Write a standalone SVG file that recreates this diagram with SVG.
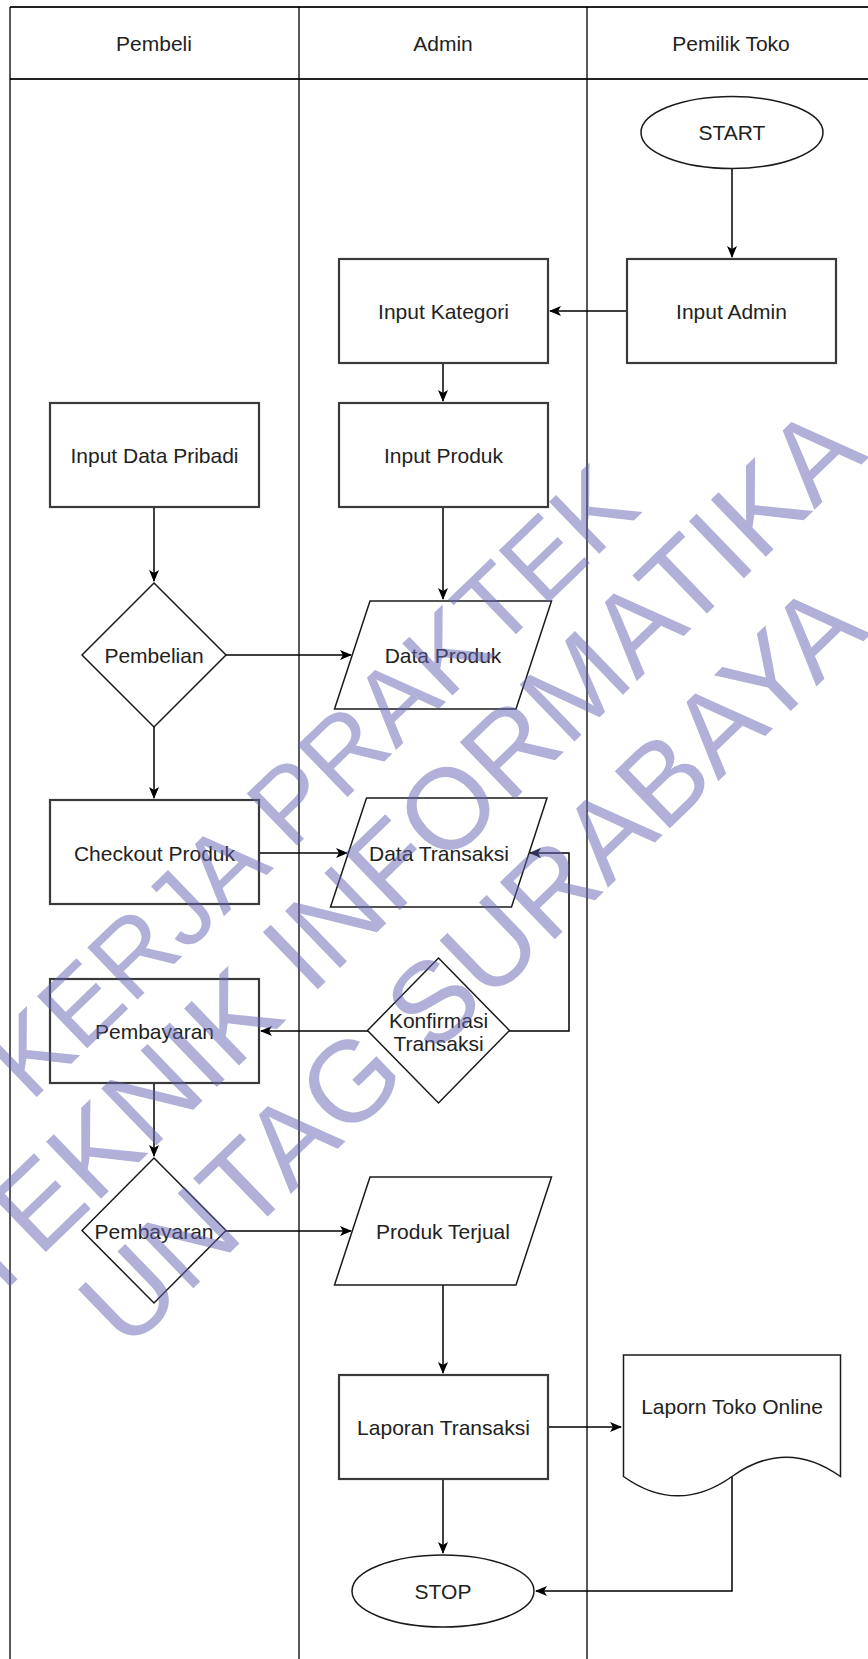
<svg xmlns="http://www.w3.org/2000/svg" width="868" height="1659" viewBox="0 0 868 1659">
<defs>
<style>
.lane{stroke:#000;stroke-width:1.3;fill:none}
.hdr{stroke:#222;stroke-width:2;fill:none}
.box{fill:#fff;stroke:#3a3a3a;stroke-width:2.2}
.shp{fill:#fff;stroke:#1a1a1a;stroke-width:1.5}
.t{font-family:"Liberation Sans",Arial,sans-serif;font-size:21px;fill:#222;text-anchor:middle}
.c{fill:none;stroke:#000;stroke-width:1.5}
.wm{font-family:"Liberation Sans",Arial,sans-serif;fill:#6161b1;fill-opacity:0.5;text-anchor:middle}
</style>
<marker id="ah" viewBox="0 0 12 10" refX="11" refY="5" markerWidth="12" markerHeight="10" markerUnits="userSpaceOnUse" orient="auto">
<path d="M0,0 L12,5 L0,10 L3,5 Z" fill="#000"/>
</marker>
</defs>
<rect width="868" height="1659" fill="#fff"/>
<g id="lanes">
<line class="hdr" x1="10" y1="7" x2="868" y2="7"/>
<line class="hdr" x1="10" y1="79" x2="868" y2="79"/>
<line class="lane" x1="10" y1="7" x2="10" y2="1659"/>
<line class="lane" x1="299" y1="7" x2="299" y2="1659"/>
<line class="lane" x1="587" y1="7" x2="587" y2="1659"/>
<text class="t" x="154" y="50.5">Pembeli</text>
<text class="t" x="443" y="50.5">Admin</text>
<text class="t" x="731" y="50.5">Pemilik Toko</text>
</g>
<g id="connectors">
<path class="c" d="M732,168 V257" marker-end="url(#ah)"/>
<path class="c" d="M627,311 H550" marker-end="url(#ah)"/>
<path class="c" d="M443,363 V401" marker-end="url(#ah)"/>
<path class="c" d="M443,507 V599" marker-end="url(#ah)"/>
<path class="c" d="M154,507 V581" marker-end="url(#ah)"/>
<path class="c" d="M226,655 H351" marker-end="url(#ah)"/>
<path class="c" d="M154,727 V798" marker-end="url(#ah)"/>
<path class="c" d="M259,853 H347" marker-end="url(#ah)"/>
<path class="c" d="M509,1031 H569 V853 H530" marker-end="url(#ah)"/>
<path class="c" d="M368,1031 H261" marker-end="url(#ah)"/>
<path class="c" d="M154,1083 V1156" marker-end="url(#ah)"/>
<path class="c" d="M226,1231 H351" marker-end="url(#ah)"/>
<path class="c" d="M443,1285 V1373" marker-end="url(#ah)"/>
<path class="c" d="M548,1427 H621" marker-end="url(#ah)"/>
<path class="c" d="M443,1479 V1553" marker-end="url(#ah)"/>
<path class="c" d="M732,1477 V1591 H536" marker-end="url(#ah)"/>
</g>
<g id="start">
<ellipse class="shp" cx="732" cy="132.5" rx="91" ry="36"/>
<text class="t" x="732" y="140">START</text>
</g>
<g id="input-admin">
<rect class="box" x="627" y="259" width="209" height="104"/>
<text class="t" x="731.5" y="318.5">Input Admin</text>
</g>
<g id="input-kategori">
<rect class="box" x="339" y="259" width="209" height="104"/>
<text class="t" x="443.5" y="318.5">Input Kategori</text>
</g>
<g id="input-data-pribadi">
<rect class="box" x="50" y="403" width="209" height="104"/>
<text class="t" x="154.5" y="462.5">Input Data Pribadi</text>
</g>
<g id="input-produk">
<rect class="box" x="339" y="403" width="209" height="104"/>
<text class="t" x="443.5" y="462.5">Input Produk</text>
</g>
<g id="pembelian">
<path class="shp" d="M154,583 L226,655 L154,727 L82,655 Z"/>
<text class="t" x="154" y="662.5">Pembelian</text>
</g>
<g id="data-produk">
<path class="shp" d="M370,601 H551.5 L516,709 H334.5 Z"/>
<text class="t" x="443" y="662.5">Data Produk</text>
</g>
<g id="checkout-produk">
<rect class="box" x="50" y="800" width="209" height="104"/>
<text class="t" x="154.5" y="860.5">Checkout Produk</text>
</g>
<g id="data-transaksi">
<path class="shp" d="M366.5,798 H547 L511.5,907 H330.5 Z"/>
<text class="t" x="439" y="860.5">Data Transaksi</text>
</g>
<g id="konfirmasi-transaksi">
<path class="shp" d="M438.5,958 L509.5,1030.5 L438.5,1103 L367.5,1030.5 Z"/>
<text class="t" x="438.5" y="1027.5">Konfirmasi</text>
<text class="t" x="438.5" y="1051">Transaksi</text>
</g>
<g id="pembayaran-box">
<rect class="box" x="50" y="979" width="209" height="104"/>
<text class="t" x="154.5" y="1038.5">Pembayaran</text>
</g>
<g id="pembayaran-decision">
<path class="shp" d="M154,1158 L226,1230.5 L154,1303 L82,1230.5 Z"/>
<text class="t" x="154" y="1238.5">Pembayaran</text>
</g>
<g id="produk-terjual">
<path class="shp" d="M370,1177 H551.5 L516,1285 H334.5 Z"/>
<text class="t" x="443" y="1238.5">Produk Terjual</text>
</g>
<g id="laporan-transaksi">
<rect class="box" x="339" y="1375" width="209" height="104"/>
<text class="t" x="443.5" y="1435">Laporan Transaksi</text>
</g>
<g id="laporn-toko-online">
<path class="shp" d="M623.5,1355 H840.5 V1476.5 Q786.25,1437.8 732,1476.5 Q677.75,1515.2 623.5,1476.5 Z"/>
<text class="t" x="732" y="1413.5">Laporn Toko Online</text>
</g>
<g id="stop">
<ellipse class="shp" cx="443" cy="1591" rx="91" ry="36"/>
<text class="t" x="443" y="1598.5">STOP</text>
</g>
<g id="watermark">
<text class="wm" font-size="105" transform="translate(337,807) rotate(-44)">KERJA PRAKTEK</text>
<text class="wm" font-size="115" transform="translate(429,882) rotate(-44)">TEKNIK INFORMATIKA</text>
<text class="wm" font-size="115" transform="translate(499,993) rotate(-44)">UNTAG SURABAYA</text>
</g>
</svg>
